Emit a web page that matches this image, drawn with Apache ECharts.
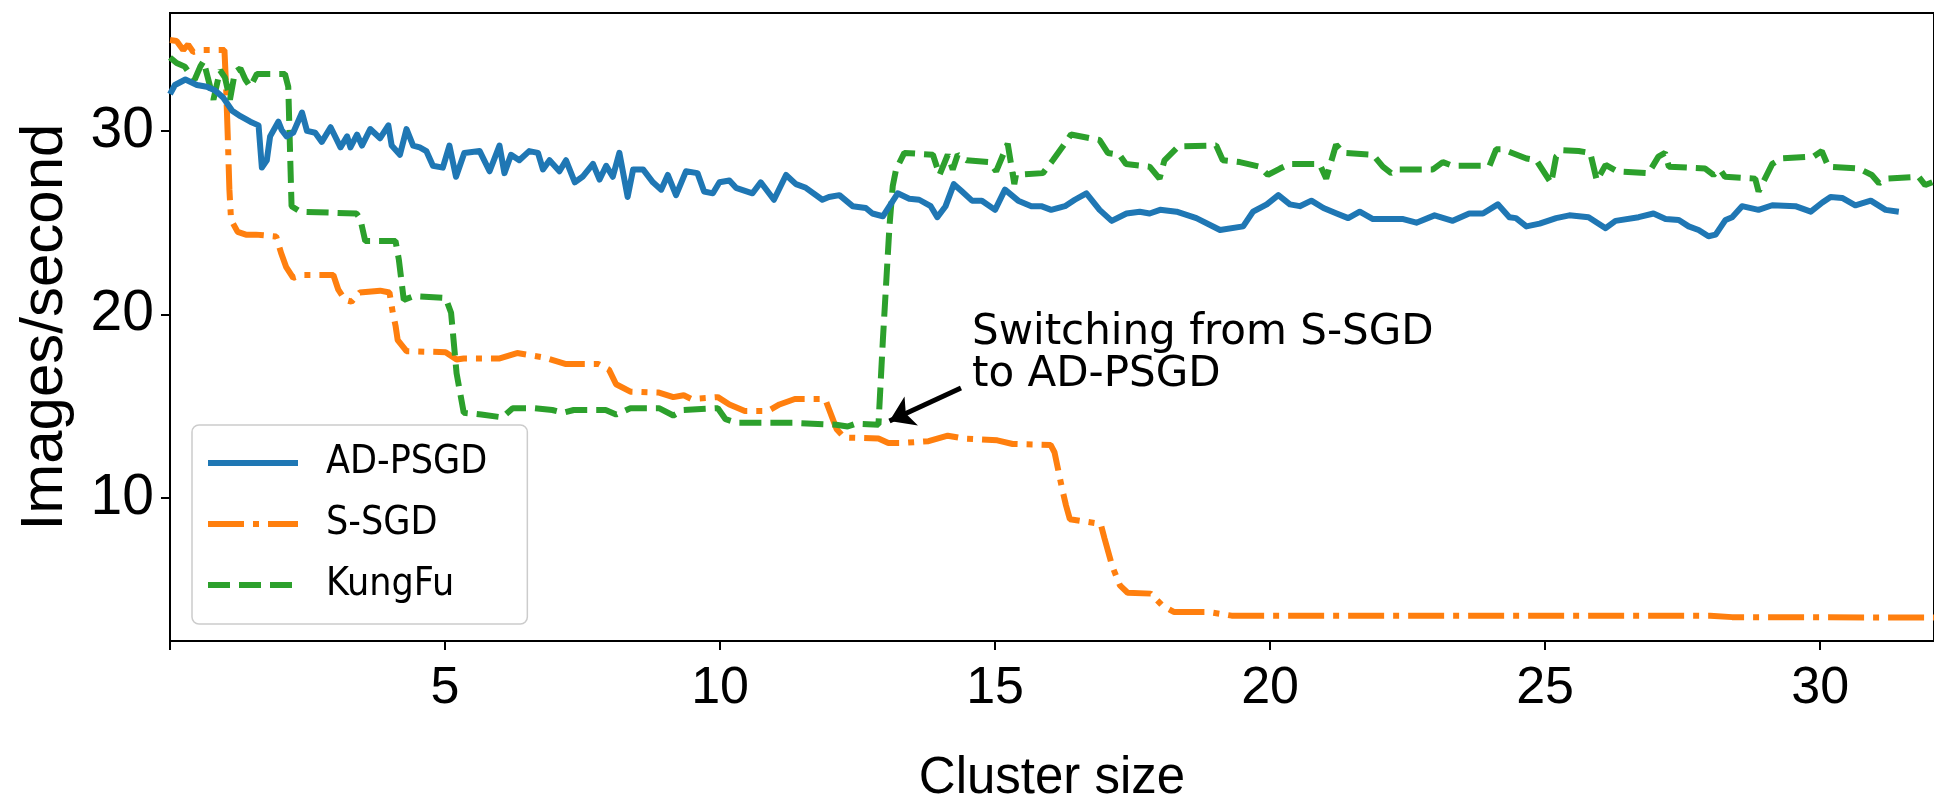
<!DOCTYPE html>
<html lang="en">
<head>
<meta charset="UTF-8">
<title>ECharts</title>
<script src="https://cdn.jsdelivr.net/npm/echarts@6/dist/echarts.min.js"></script>
<style type="text/css">
    *{margin:0;padding:0;border:none}
    html,body{width:100%;height:100%;overflow:hidden;background:#fff}
    #main{width:1934px;height:809px}
</style>
</head>
<body>
<div id="main"></div>
<script type="text/javascript">
    // values: [cluster size, images/second]
    var adpsgd = [
        [0,32.0],[0.09,32.5],[0.28,32.8],[0.49,32.5],[0.67,32.4],[0.82,32.2],[0.97,31.8],[1.13,31.1],
        [1.28,30.8],[1.46,30.5],[1.61,30.3],[1.67,28.0],[1.76,28.4],[1.82,29.7],[1.97,30.5],[2.03,30.05],
        [2.12,29.7],[2.24,29.9],[2.4,31.0],[2.49,30.0],[2.64,29.9],[2.76,29.4],[2.92,30.2],[3.1,29.1],
        [3.22,29.7],[3.28,29.1],[3.4,29.8],[3.49,29.2],[3.64,30.1],[3.82,29.6],[3.97,30.3],[4.03,29.2],
        [4.18,28.7],[4.3,30.1],[4.42,29.2],[4.54,29.1],[4.66,28.9],[4.78,28.1],[4.96,28.0],[5.08,29.2],
        [5.2,27.5],[5.35,28.8],[5.63,28.9],[5.81,27.8],[5.99,29.2],[6.08,27.7],[6.2,28.7],[6.35,28.4],
        [6.53,28.9],[6.69,28.8],[6.78,27.9],[6.9,28.4],[7.08,27.8],[7.2,28.4],[7.36,27.2],[7.5,27.5],
        [7.69,28.2],[7.81,27.35],[7.93,28.1],[8.05,27.5],[8.17,28.8],[8.32,26.4],[8.42,27.9],[8.6,27.9],
        [8.78,27.2],[8.93,26.8],[9.05,27.6],[9.2,26.5],[9.38,27.8],[9.59,27.7],[9.71,26.7],[9.87,26.6],
        [9.99,27.2],[10.17,27.3],[10.29,26.9],[10.59,26.6],[10.74,27.2],[10.98,26.25],[11.2,27.6],[11.38,27.1],
        [11.56,26.9],[11.86,26.25],[11.98,26.4],[12.17,26.5],[12.41,25.9],[12.65,25.8],[12.77,25.5],[12.96,25.35],
        [13.08,25.9],[13.23,26.6],[13.44,26.3],[13.62,26.25],[13.83,25.9],[13.95,25.3],[14.1,25.9],[14.25,27.1],
        [14.4,26.7],[14.58,26.2],[14.76,26.2],[15.0,25.7],[15.18,26.8],[15.42,26.2],[15.66,25.9],[15.84,25.9],
        [16.02,25.7],[16.27,25.9],[16.45,26.25],[16.66,26.6],[16.9,25.7],[17.12,25.1],[17.39,25.5],[17.63,25.6],
        [17.81,25.5],[18.0,25.7],[18.3,25.6],[18.66,25.25],[19.09,24.6],[19.51,24.8],[19.69,25.6],[19.94,26.0],
        [20.15,26.5],[20.36,26.0],[20.54,25.9],[20.75,26.2],[20.97,25.8],[21.21,25.5],[21.42,25.25],[21.63,25.6],
        [21.87,25.2],[22.17,25.2],[22.42,25.2],[22.66,25.0],[22.99,25.4],[23.32,25.1],[23.62,25.5],[23.87,25.5],
        [24.14,26.0],[24.35,25.3],[24.47,25.25],[24.66,24.8],[24.9,24.95],[25.2,25.25],[25.44,25.4],[25.79,25.3],
        [26.1,24.7],[26.28,25.1],[26.7,25.3],[26.97,25.5],[27.19,25.2],[27.43,25.15],[27.61,24.8],[27.79,24.6],
        [27.97,24.26],[28.1,24.35],[28.28,25.15],[28.4,25.3],[28.58,25.9],[28.88,25.7],[29.13,25.95],[29.55,25.9],
        [29.83,25.6],[30.04,26.1],[30.19,26.4],[30.4,26.35],[30.64,25.95],[30.92,26.2],[31.19,25.7],[31.43,25.6]
    ];
    var ssgd = [
        [0,34.95],[0.12,34.9],[0.24,34.4],[0.33,34.7],[0.42,34.3],[0.6,34.4],[0.99,34.4],[1.02,32.4],
        [1.05,29.7],[1.08,26.8],[1.11,25.15],[1.23,24.5],[1.38,24.35],[1.56,24.35],[1.93,24.25],[2.02,23.35],
        [2.11,22.6],[2.24,22.0],[2.42,22.15],[2.97,22.15],[3.06,21.35],[3.18,20.8],[3.3,20.7],[3.45,21.2],
        [3.82,21.3],[3.99,21.2],[4.05,20.1],[4.1,19.4],[4.14,18.6],[4.3,18.0],[5.01,17.95],[5.21,17.55],
        [5.34,17.6],[5.98,17.6],[6.31,17.9],[6.82,17.65],[7.2,17.3],[7.79,17.3],[7.98,17.0],[8.11,16.2],
        [8.37,15.8],[8.89,15.75],[9.15,15.5],[9.34,15.6],[9.48,15.4],[9.96,15.5],[10.17,15.1],[10.45,14.75],
        [10.87,14.75],[11.08,15.1],[11.36,15.4],[11.91,15.4],[12.05,14.3],[12.12,13.75],[12.26,13.3],[12.88,13.25],
        [13.06,13.0],[13.3,13.0],[13.79,13.1],[14.14,13.4],[14.42,13.25],[15.04,13.15],[15.32,12.95],[16.01,12.9],
        [16.08,12.5],[16.22,10.5],[16.29,9.6],[16.36,8.85],[16.92,8.6],[16.99,7.8],[17.13,6.3],[17.27,5.25],
        [17.41,4.85],[17.83,4.8],[18.04,4.15],[18.25,3.8],[18.88,3.8],[19.3,3.6],[22.0,3.6],[25.0,3.6],
        [28.0,3.6],[28.4,3.52],[30.0,3.51],[32.07,3.5]
    ];
    var kungfu = [
        [0,34.0],[0.12,33.7],[0.27,33.5],[0.36,33.1],[0.45,32.8],[0.55,33.5],[0.61,33.8],[0.73,32.4],
        [0.79,31.7],[0.91,33.3],[1.0,32.9],[1.09,31.7],[1.18,33.2],[1.28,33.4],[1.37,32.8],[1.46,32.4],
        [1.58,33.1],[2.09,33.1],[2.15,32.4],[2.21,25.9],[2.37,25.6],[3.39,25.5],[3.46,25.2],[3.55,24.0],
        [4.1,24.0],[4.16,23.0],[4.25,20.8],[4.43,21.0],[5.01,20.9],[5.11,20.1],[5.21,16.8],[5.34,14.65],
        [5.66,14.55],[6.04,14.4],[6.23,14.9],[6.62,14.9],[6.95,14.8],[7.15,14.65],[7.34,14.8],[7.92,14.8],
        [8.11,14.55],[8.37,14.9],[8.89,14.9],[9.15,14.5],[9.34,14.8],[9.96,14.9],[10.1,14.3],[10.31,14.1],
        [11.0,14.1],[11.35,14.1],[12.11,14.0],[12.32,13.9],[12.46,14.05],[12.88,14.0],[12.96,18.6],[13.08,24.8],
        [13.14,27.0],[13.2,27.9],[13.35,28.8],[13.87,28.7],[13.99,27.6],[14.14,28.7],[14.23,27.9],[14.32,28.7],
        [14.48,28.4],[14.9,28.3],[15.02,27.8],[15.23,29.3],[15.35,27.1],[15.38,27.6],[15.87,27.7],[16.05,28.4],
        [16.23,29.15],[16.38,29.8],[16.9,29.5],[17.05,28.8],[17.26,28.7],[17.38,28.2],[17.81,28.05],[17.99,27.4],
        [18.08,28.4],[18.33,29.15],[19.02,29.2],[19.14,28.4],[19.45,28.3],[19.81,28.05],[19.96,27.6],[20.18,27.95],
        [20.36,28.2],[20.9,28.2],[21.02,27.4],[21.2,29.25],[21.33,28.8],[21.87,28.7],[22.05,28.05],[22.2,27.7],
        [22.35,27.9],[22.96,27.9],[23.14,28.3],[23.32,28.1],[23.99,28.1],[24.11,29.0],[24.23,29.0],[24.66,28.5],
        [24.84,28.4],[25.11,27.15],[25.2,28.6],[25.32,28.95],[25.61,28.9],[25.82,28.8],[25.94,27.3],[26.1,28.15],
        [26.31,27.8],[26.88,27.7],[27.06,28.6],[27.18,28.8],[27.25,28.05],[27.91,27.95],[28.06,27.6],[28.18,27.9],
        [28.27,27.5],[28.82,27.4],[28.88,26.7],[29.13,28.2],[29.3,28.5],[29.88,28.6],[30.03,28.9],[30.15,28.05],
        [30.7,27.95],[30.94,27.6],[31.07,27.15],[31.21,27.4],[31.79,27.5],[31.91,27.05],[32.04,27.2]
    ];
    var seriesNames = ['AD-PSGD', 'S-SGD', 'KungFu'];
    var xTicks = [0, 5, 10, 15, 20, 25, 30];
    var xLabels = [5, 10, 15, 20, 25, 30];
    var yTicks = [10, 20, 30];
    var xRange = [0, 32.07];
    var yRange = [2.22, 36.42];
    // annotation: text anchor and arrow (tail -> head), data coords
    var noteText = 'Switching from S-SGD\nto AD-PSGD';
    var noteAt = [14.58, 17.85];
    var arrowFrom = [14.38, 16.0];
    var arrowTo = [13.08, 14.2];

    var tickFont = "'Liberation Sans', Arial, sans-serif";
    var textFont = "'DejaVu Sans', sans-serif";
    var legendFont = "'DejaVu Sans Condensed', 'DejaVu Sans', sans-serif";

    var myChart = echarts.init(document.getElementById('main'));
    var option = {
        animation: false,
        backgroundColor: '#fff',
        grid: {
            left: 170, right: -10, top: 13, bottom: 160.5,
            show: true, borderColor: '#000', borderWidth: 2
        },
        legend: {
            orient: 'vertical',
            left: 192, top: 425,
            padding: [18, 40, 19, 13],
            itemWidth: 90, itemHeight: 40, itemGap: 21,
            borderColor: '#cccccc', borderWidth: 1.5, borderRadius: 7,
            backgroundColor: 'rgba(255,255,255,0.85)',
            itemStyle: {opacity: 0},
            lineStyle: {width: 6},
            textStyle: {fontFamily: legendFont, fontSize: 39, color: '#000', lineHeight: 40, padding: [0, 0, 0, 23]},
            data: seriesNames
        },
        xAxis: {
            type: 'value',
            min: xRange[0], max: xRange[1],
            name: 'Cluster size',
            nameLocation: 'middle',
            nameGap: 112,
            nameTextStyle: {fontFamily: tickFont, fontSize: 51, color: '#000'},
            axisLine: {lineStyle: {color: '#000', width: 2}},
            axisTick: {length: 9, lineStyle: {color: '#000', width: 2}, customValues: xTicks},
            axisLabel: {fontFamily: tickFont, fontSize: 52, color: '#000', margin: 22, customValues: xLabels},
            splitLine: {show: false}
        },
        yAxis: {
            type: 'value',
            min: yRange[0], max: yRange[1],
            name: 'Images/second',
            nameLocation: 'middle',
            nameGap: 95,
            nameTextStyle: {fontFamily: tickFont, fontSize: 60, color: '#000'},
            axisLine: {show: true, lineStyle: {color: '#000', width: 2}},
            axisTick: {show: true, length: 9, lineStyle: {color: '#000', width: 2}, customValues: yTicks},
            axisLabel: {fontFamily: tickFont, fontSize: 57, color: '#000', margin: 16, customValues: yTicks},
            splitLine: {show: false}
        },
        series: [
            {
                name: seriesNames[0],
                type: 'line',
                data: adpsgd,
                symbol: 'none',
                z: 3,
                lineStyle: {color: '#1f77b4', width: 6, join: 'round'},
                itemStyle: {color: '#1f77b4'}
            },
            {
                name: seriesNames[1],
                type: 'line',
                data: ssgd,
                symbol: 'none',
                z: 2,
                lineStyle: {color: '#ff7f0e', width: 6, type: [36, 9, 6, 9]},
                itemStyle: {color: '#ff7f0e'}
            },
            {
                name: seriesNames[2],
                type: 'line',
                data: kungfu,
                symbol: 'none',
                z: 2,
                lineStyle: {color: '#2ca02c', width: 6, type: [22, 9]},
                itemStyle: {color: '#2ca02c'},
                markLine: {
                    silent: true,
                    symbol: ['none', 'arrow'],
                    symbolSize: 24,
                    label: {show: false},
                    lineStyle: {color: '#000', width: 5, type: 'solid'},
                    itemStyle: {color: '#000'},
                    data: [[{coord: arrowFrom}, {coord: arrowTo}]]
                },
                markPoint: {
                    silent: true,
                    symbol: 'circle',
                    symbolSize: 0,
                    label: {
                        show: true, position: 'right', distance: 0,
                        formatter: noteText,
                        fontFamily: textFont, fontSize: 42, lineHeight: 42, color: '#000', align: 'left'
                    },
                    data: [{coord: noteAt}]
                }
            }
        ]
    };
    myChart.setOption(option);

    window.onresize = function(){
        myChart.resize();
    }
</script>
</body>
</html>
